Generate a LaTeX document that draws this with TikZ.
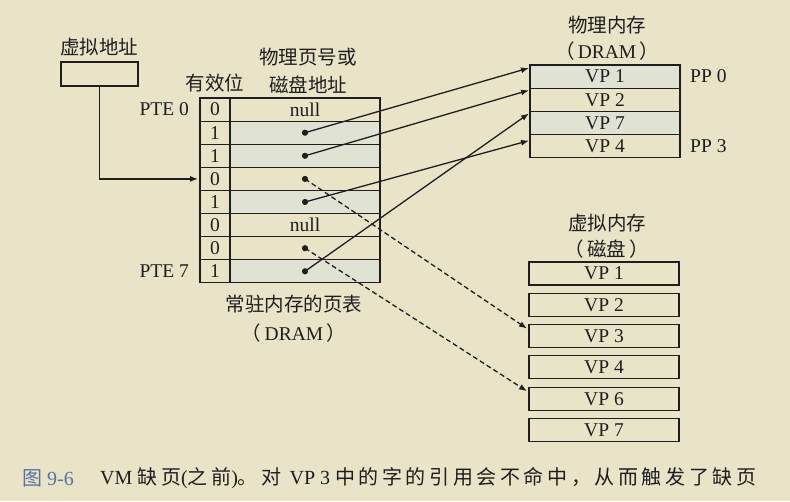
\documentclass[tikz,border=0pt]{standalone}
\usepackage{fontspec}
\setmainfont{Liberation Serif}
\newfontfamily\cjk{Noto Sans CJK SC}
\newfontfamily\cjkcap[LetterSpace=18]{Noto Sans CJK SC}
\usetikzlibrary{arrows.meta,positioning}
\definecolor{cpaper}{RGB}{233,227,200}
\definecolor{cink}{RGB}{30,30,30}
\definecolor{ctint}{RGB}{224,227,212}
\definecolor{ccap}{RGB}{85,115,165}

\begin{document}
\begin{tikzpicture}[
  x=1pt, y=1pt,
  font=\fontsize{19.5}{26}\selectfont, text=cink,
  cell/.style={draw=cink, line width=1.1pt, outer sep=0pt, inner sep=0pt, minimum height=23.1pt},
  vcell/.style={cell, minimum width=30pt},
  acell/.style={cell, minimum width=150pt},
  pmem/.style={cell, minimum width=150pt, minimum height=23.2pt},
  dmem/.style={cell, minimum width=150pt, minimum height=23pt},
  tint/.style={fill=ctint},
  lbl/.style={inner sep=0pt},
  ar/.style={-{Latex[length=8pt,width=6pt]}, line width=1.3pt, draw=cink},
  dar/.style={ar, dash pattern=on 5pt off 3pt},
  dot/.style={fill=cink},
]
\fill[cpaper] (0,0) rectangle (790,501);
\useasboundingbox (0,0) rectangle (790,501);

% virtual address
\node[lbl] (vatitle) at (99,454) {\cjk 虚拟地址};
\node[cell, minimum width=77pt, minimum height=24pt] (vabox) at (99.5,427) {};

% page table
\node[lbl] (validtitle) at (215,418) {\cjk 有效位};
\node[lbl, align=center] (addrtitle) at (308,430) {\cjk 物理页号或\\[1.5pt]\cjk 磁盘地址};
\node[vcell] (v0) at (215,391.4) {0};
\node[vcell, below=0pt of v0] (v1) {1};
\node[vcell, below=0pt of v1] (v2) {1};
\node[vcell, below=0pt of v2] (v3) {0};
\node[vcell, below=0pt of v3] (v4) {1};
\node[vcell, below=0pt of v4] (v5) {0};
\node[vcell, below=0pt of v5] (v6) {0};
\node[vcell, below=0pt of v6] (v7) {1};
\node[acell, right=0pt of v0] (a0) {null};
\node[acell, tint, right=0pt of v1] (a1) {};
\node[acell, tint, right=0pt of v2] (a2) {};
\node[acell, right=0pt of v3] (a3) {};
\node[acell, tint, right=0pt of v4] (a4) {};
\node[acell, right=0pt of v5] (a5) {null};
\node[acell, right=0pt of v6] (a6) {};
\node[acell, tint, right=0pt of v7] (a7) {};
\node[lbl, left=11pt of v0] (pte0) {PTE 0};
\node[lbl, left=11pt of v7] (pte7) {PTE 7};
\node[lbl, align=center] (pttitle) at (294,182.5) {\cjk 常驻内存的页表\\[3pt]\cjk （\,\normalfont DRAM\,\cjk ）};

% physical memory
\node[lbl, align=center] (pmtitle) at (607,463) {\cjk 物理内存\\[0pt]\cjk （\,\normalfont DRAM\,\cjk ）};
\node[pmem, tint] (p1) at (605,424.4) {VP 1};
\node[pmem, below=0pt of p1] (p2) {VP 2};
\node[pmem, tint, below=0pt of p2] (p3) {VP 7};
\node[pmem, below=0pt of p3] (p4) {VP 4};
\node[lbl, right=10pt of p1] (pp0) {PP 0};
\node[lbl, right=10pt of p4] (pp3) {PP 3};

% virtual memory (disk)
\node[lbl, align=center] (dmtitle) at (607,265) {\cjk 虚拟内存\\[0pt]\cjk （\,磁盘\,）};
\node[dmem] (d1) at (604,227.5) {VP 1};
\node[dmem, below=8.3pt of d1] (d2) {VP 2};
\node[dmem, below=8.3pt of d2] (d3) {VP 3};
\node[dmem, below=8.3pt of d3] (d4) {VP 4};
\node[dmem, below=8.3pt of d4] (d6) {VP 6};
\node[dmem, below=8.3pt of d6] (d7) {VP 7};

% dots
\fill[dot] (a1.center) circle (3.1pt);
\fill[dot] (a2.center) circle (3.1pt);
\fill[dot] (a3.center) circle (3.1pt);
\fill[dot] (a4.center) circle (3.1pt);
\fill[dot] (a6.center) circle (3.1pt);
\fill[dot] (a7.center) circle (3.1pt);

% connectors
\draw[ar] (vabox.south) |- ([xshift=-2pt]v3.west);
\draw[ar] (a1.center) -- ([xshift=-1pt,yshift=-3pt]p1.north west);
\draw[ar] (a2.center) -- ([xshift=-1pt,yshift=-2pt]p2.north west);
\draw[ar] (a4.center) -- ([xshift=-1pt,yshift=-6pt]p4.north west);
\draw[ar] (a7.center) -- ([xshift=-1pt,yshift=-2pt]p3.north west);
\draw[dar] (a3.center) -- ([xshift=-2pt,yshift=-4pt]d3.north west);
\draw[dar] (a6.center) -- ([xshift=-2pt,yshift=-4pt]d6.north west);

% caption
\node[lbl, anchor=west, text=ccap, font=\fontsize{20}{24}\selectfont] (capnum) at (22,23) {\cjk 图\normalfont\ 9-6};
\node[lbl, anchor=west, font=\fontsize{20}{24}\selectfont] (captext) at (100,23) {VM {\cjkcap 缺页}(\cjkcap 之前\normalfont)\cjkcap 。对 \normalfont VP 3 \cjkcap 中的字的引用会不命中，从而触发了缺页};
\end{tikzpicture}
\end{document}
